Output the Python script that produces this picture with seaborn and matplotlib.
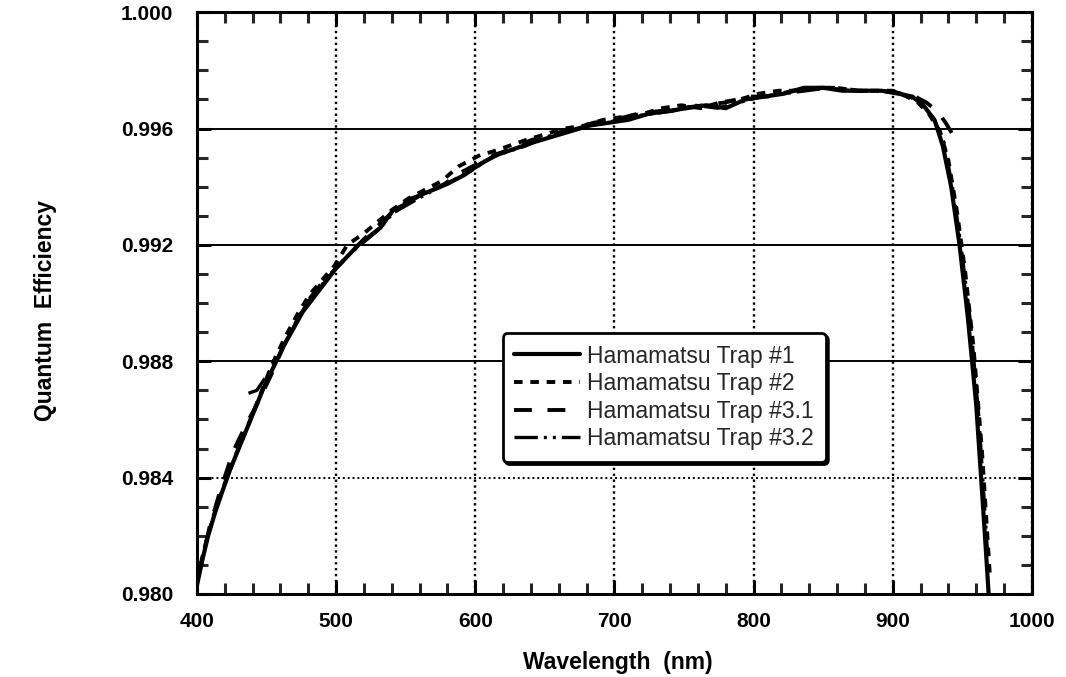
import numpy as np
import pandas as pd
import matplotlib
matplotlib.use("Agg")
import matplotlib.pyplot as plt
from matplotlib.ticker import MultipleLocator, FixedLocator
import seaborn as sns

# ---------------- data ----------------
series_names = ["Hamamatsu Trap #1", "Hamamatsu Trap #2",
                "Hamamatsu Trap #3.1", "Hamamatsu Trap #3.2"]

wl_trap1 = [400, 404, 408, 413, 418, 424, 430, 436, 442, 448,
            455, 462, 469, 476, 484, 492, 500, 508, 516, 524,
            532, 541, 550, 560, 570, 580, 592, 604, 616, 628,
            640, 654, 668, 682, 696, 710, 724, 738, 752, 766,
            780, 794, 808, 822, 836, 850, 864, 878, 892, 904,
            914, 922, 930, 936, 942, 948, 954, 960, 966, 972]
qe_trap1 = [0.9803, 0.9812, 0.9820, 0.9828, 0.9835, 0.9843, 0.9850, 0.9857, 0.9864, 0.9871,
            0.9878, 0.9885, 0.9891, 0.9897, 0.9902, 0.9907, 0.9912, 0.9916, 0.9920, 0.9923,
            0.9926, 0.9932, 0.9934, 0.9937, 0.9939, 0.9941, 0.9944, 0.9948, 0.9951, 0.9953,
            0.9955, 0.9957, 0.9959, 0.9961, 0.9962, 0.9963, 0.9965, 0.9966, 0.9967, 0.9968,
            0.9967, 0.9970, 0.9971, 0.9972, 0.9974, 0.9974, 0.9973, 0.9973, 0.9973, 0.9972,
            0.9971, 0.9968, 0.9963, 0.9954, 0.9940, 0.9920, 0.9895, 0.9865, 0.9822, 0.9777]

wl_trap2 = [400, 406, 412, 420, 428, 436, 445, 454, 463, 472,
            481, 490, 499, 508, 514, 520, 530, 540, 552, 564,
            576, 588, 596, 604, 612, 624, 636, 650, 664, 678,
            692, 706, 720, 734, 748, 762, 776, 790, 804, 818,
            832, 846, 860, 874, 888, 900, 910, 918, 926, 934,
            940, 946, 952, 958, 964, 970]
qe_trap2 = [0.9805, 0.9817, 0.9827, 0.9838, 0.9848, 0.9857, 0.9868, 0.9879, 0.9888, 0.9896,
            0.9903, 0.9908, 0.9913, 0.9920, 0.9922, 0.9924, 0.9928, 0.9932, 0.9936, 0.9939,
            0.9942, 0.9947, 0.9949, 0.9951, 0.9952, 0.9954, 0.9956, 0.9958, 0.9960, 0.9961,
            0.9963, 0.9964, 0.9965, 0.9967, 0.9968, 0.9967, 0.9969, 0.9970, 0.9972, 0.9973,
            0.9973, 0.9974, 0.9974, 0.9973, 0.9973, 0.9973, 0.9971, 0.9969, 0.9965, 0.9959,
            0.9949, 0.9932, 0.9911, 0.9885, 0.9850, 0.9805]

wl_trap31 = [401, 409, 417, 426, 435, 444, 453, 462, 471, 480,
             490, 500, 510, 520, 531, 542, 554, 566, 578, 590,
             602, 614, 626, 640, 655, 670, 685, 700, 716, 732,
             748, 764, 780, 796, 812, 828, 844, 860, 876, 892,
             906, 916, 924, 932, 938, 943]
qe_trap31 = [0.9806, 0.9823, 0.9836, 0.9849, 0.9858, 0.9866, 0.9875, 0.9885, 0.9893, 0.9901,
             0.9907, 0.9912, 0.9917, 0.9922, 0.9927, 0.9932, 0.9936, 0.9938, 0.9941, 0.9945,
             0.9948, 0.9951, 0.9953, 0.9956, 0.9958, 0.9960, 0.9962, 0.9963, 0.9965, 0.9966,
             0.9967, 0.9968, 0.9969, 0.9971, 0.9971, 0.9973, 0.9974, 0.9974, 0.9973, 0.9973,
             0.9972, 0.9971, 0.9969, 0.9966, 0.9962, 0.9958]

wl_trap32 = [437, 443, 450, 458, 466, 474, 482, 491, 500, 510,
             520, 530, 541, 552, 563, 575, 587, 599, 611, 623,
             636, 650, 665, 680, 695, 710, 726, 742, 758, 774,
             790, 806, 822, 838, 854, 870, 886, 900, 912, 922,
             930, 937, 944, 950, 956, 962, 968]
qe_trap32 = [0.9869, 0.9870, 0.9875, 0.9881, 0.9889, 0.9896, 0.9902, 0.9907, 0.9912, 0.9917,
             0.9921, 0.9925, 0.9931, 0.9934, 0.9937, 0.9940, 0.9943, 0.9946, 0.9950, 0.9952,
             0.9954, 0.9957, 0.9959, 0.9961, 0.9962, 0.9964, 0.9965, 0.9966, 0.9968, 0.9967,
             0.9969, 0.9971, 0.9972, 0.9973, 0.9974, 0.9973, 0.9973, 0.9973, 0.9971, 0.9968,
             0.9963, 0.9955, 0.9937, 0.9916, 0.9893, 0.9860, 0.9815]

x_ticks = [400, 500, 600, 700, 800, 900, 1000]
y_ticks = [0.980, 0.984, 0.988, 0.992, 0.996, 1.000]
y_tick_labels = ["0.980", "0.984", "0.988", "0.992", "0.996", "1.000"]

# ---------------- style ----------------
sns.set_theme(style="ticks")
plt.rcParams["font.family"] = ["Liberation Sans", "DejaVu Sans"]
plt.rcParams["axes.linewidth"] = 2.2
plt.rcParams["lines.scale_dashes"] = True

fig = plt.figure(figsize=(10.66, 6.77), dpi=100)
fig.patch.set_facecolor("white")
ax = fig.add_axes([0.1848, 0.1226, 0.968 - 0.1848, 0.982 - 0.1226])
ax.set_facecolor("white")

styles = [
    dict(linestyle="-", lw=3.0),
    dict(linestyle=(0, (2.2, 2.0)), lw=2.8),
    dict(linestyle=(0, (4.6, 4.0)), lw=2.8),
    dict(linestyle=(0, (7, 1.8, 0.9, 1.8, 0.9, 1.8)), lw=2.4),
]
data = [(wl_trap1, qe_trap1), (wl_trap2, qe_trap2),
        (wl_trap31, qe_trap31), (wl_trap32, qe_trap32)]

for name, (wl, qe), st in zip(series_names, data, styles):
    df = pd.DataFrame({"Wavelength": wl, "QE": qe})
    sns.lineplot(data=df, x="Wavelength", y="QE", ax=ax, color="black",
                 estimator=None, sort=False, label=name,
                 linestyle=st["linestyle"], linewidth=st["lw"], zorder=3)

ax.set_xlim(400, 1000)
ax.set_ylim(0.980, 1.000)
ax.xaxis.set_major_locator(FixedLocator(x_ticks))
ax.yaxis.set_major_locator(FixedLocator(y_ticks))
ax.set_yticklabels(y_tick_labels)
ax.xaxis.set_minor_locator(MultipleLocator(20))
ax.yaxis.set_minor_locator(MultipleLocator(0.001))

ax.tick_params(axis="both", which="major", direction="in", length=10, width=2.2,
               top=True, right=True, labelsize=15, colors="black")
ax.tick_params(axis="both", which="minor", direction="in", length=8, width=2.2,
               top=True, right=True)
ax.tick_params(axis="y", which="major", pad=17)
ax.tick_params(axis="x", which="major", pad=13)
for lab in ax.get_xticklabels() + ax.get_yticklabels():
    lab.set_fontweight("bold")

for sp in ax.spines.values():
    sp.set_color("black")
    sp.set_linewidth(2.2)

ax.set_axisbelow(True)
ax.xaxis.grid(True, which="major", linestyle=(0, (1, 1.5)), linewidth=1.7, color="black")
ax.yaxis.grid(True, which="major", linestyle="-", linewidth=1.4, color="black")
ygl = ax.yaxis.get_gridlines()
ygl[1].set_linestyle((0, (1, 1.5)))

ax.set_xlabel("Wavelength  (nm)", fontsize=16.5, fontweight="bold", color="black")
ax.set_ylabel("Quantum  Efficiency", fontsize=16.5, fontweight="bold", color="black")
ax.xaxis.set_label_coords(0.504, -0.098)
ax.yaxis.set_label_coords(-0.168, 0.488)

leg = ax.legend(loc="upper left", bbox_to_anchor=(0.366, 0.4485),
                fontsize=16.5, handlelength=2.9, handletextpad=0.3,
                labelspacing=0.2, borderpad=0.5, frameon=True, fancybox=True,
                shadow={"color": "black", "alpha": 1.0}, framealpha=1.0,
                borderaxespad=0.0)
leg.get_frame().set_edgecolor("black")
leg.get_frame().set_linewidth(2.0)
leg.set_zorder(5)
for line in leg.get_lines():
    line.set_color("black")

fig.savefig("out.png", dpi=100, facecolor="white")
